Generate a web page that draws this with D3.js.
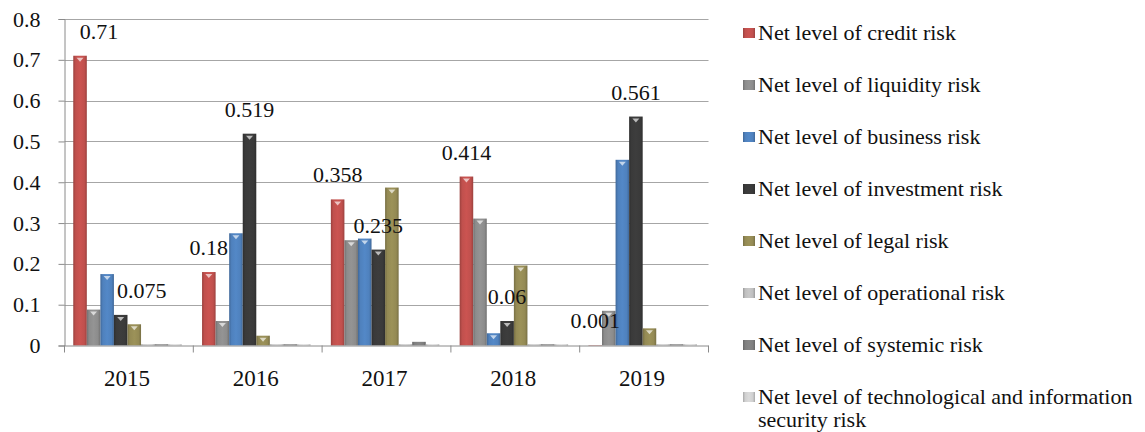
<!DOCTYPE html>
<html>
<head>
<meta charset="utf-8">
<script src="https://cdn.jsdelivr.net/npm/d3@7"></script>
</head>
<body style="margin:0">
<svg id="chart" width="1145" height="432" font-family="Liberation Serif"></svg>
<script>
const years = ["2015", "2016", "2017", "2018", "2019"];
const seriesNames = [
  "Net level of credit risk",
  "Net level of liquidity risk",
  "Net level of business risk",
  "Net level of investment risk",
  "Net level of legal risk",
  "Net level of operational risk",
  "Net level of systemic risk",
  "Net level of technological and information security risk"
];
const credit      = [0.71, 0.18, 0.358, 0.414, 0.001];
const liquidity   = [0.088, 0.06, 0.258, 0.311, 0.085];
const business    = [0.175, 0.275, 0.262, 0.03, 0.455];
const investment  = [0.075, 0.519, 0.235, 0.06, 0.561];
const legal       = [0.052, 0.024, 0.387, 0.196, 0.042];
const operational = [0.003, 0.003, 0.003, 0.003, 0.003];
const systemic    = [0.003, 0.003, 0.009, 0.003, 0.003];
const technological = [0.003, 0.003, 0.003, 0.003, 0.003];
const yTicks = [0, 0.1, 0.2, 0.3, 0.4, 0.5, 0.6, 0.7, 0.8];
const labeledSeries = [0, 3]; // credit and investment carry data labels

const seriesValues = [credit, liquidity, business, investment, legal, operational, systemic, technological];
const colors = ["#C0504D", "#8C8C8C", "#4F81BD", "#3A3A3A", "#948A54", "#BFBFBF", "#7F7F7F", "#D0D0D0"];
const FONT = "Liberation Serif";

function serif(sel) {
  return sel.attr("font-family", FONT).style("font-family", '"Liberation Serif"');
}

const svg = d3.select("#chart");
const margin = { left: 64.5, right: 708.5, top: 19, bottom: 345.5 };

const x0 = d3.scaleBand().domain(years).range([margin.left, margin.right]).padding(0);
const x1 = d3.scaleBand().domain(d3.range(seriesNames.length))
  .range([x0.bandwidth() * 0.068, x0.bandwidth() * 0.91]).padding(0);
const y = d3.scaleLinear().domain([0, 0.8]).range([margin.bottom, margin.top]);

// gradients
const defs = svg.append("defs");
colors.forEach((c, i) => {
  const g = defs.append("linearGradient").attr("id", "g" + i)
    .attr("x1", "0%").attr("x2", "100%").attr("y1", "0%").attr("y2", "0%");
  const base = d3.color(c);
  g.append("stop").attr("offset", "0%").attr("stop-color", base.darker(0.6));
  g.append("stop").attr("offset", "18%").attr("stop-color", base);
  g.append("stop").attr("offset", "50%").attr("stop-color", base.brighter(0.15));
  g.append("stop").attr("offset", "82%").attr("stop-color", base);
  g.append("stop").attr("offset", "100%").attr("stop-color", base.darker(0.6));
});

// gridlines
svg.append("g").selectAll("line").data(yTicks.filter(d => d > 0)).join("line")
  .attr("x1", margin.left).attr("x2", margin.right)
  .attr("y1", d => Math.round(y(d)) + 0.5).attr("y2", d => Math.round(y(d)) + 0.5)
  .attr("stroke", "#A6A6A6").attr("stroke-width", 1.2);

// y axis
const yAxis = svg.append("g").attr("transform", `translate(${margin.left},0)`)
  .call(d3.axisLeft(y).tickValues(yTicks).tickFormat(d => String(d)).tickSize(6).tickPadding(18));
yAxis.attr("font-family", FONT).attr("font-size", 22);
yAxis.select(".domain").attr("stroke", "#8A8A8A");
yAxis.selectAll(".tick line").attr("stroke", "#8A8A8A");
serif(yAxis.selectAll(".tick text").attr("font-size", 22).attr("fill", "#111"));

// bars
const groups = svg.append("g").selectAll("g").data(years).join("g")
  .attr("transform", d => `translate(${x0(d)},0)`);

groups.each(function(yr, yi) {
  const g = d3.select(this);
  const data = seriesValues.map((vals, si) => ({ si, v: vals[yi] }));
  g.selectAll("rect").data(data).join("rect")
    .attr("x", d => x1(d.si))
    .attr("width", x1.bandwidth())
    .attr("y", d => y(d.v))
    .attr("height", d => y(0) - y(d.v))
    .attr("fill", d => `url(#g${d.si})`);
  // small bevel marker at the top of each bar
  g.selectAll("path.tip").data(data.filter(d => y(0) - y(d.v) > 8)).join("path")
    .attr("class", "tip")
    .attr("d", d => {
      const cx = x1(d.si) + x1.bandwidth() / 2, ty = y(d.v) + 2;
      return `M${cx - 3.5},${ty} L${cx + 3.5},${ty} L${cx},${ty + 4} Z`;
    })
    .attr("fill", "rgba(255,255,255,0.65)");
});

// x axis
const xAxis = svg.append("g").attr("transform", `translate(0,${margin.bottom})`);
xAxis.append("line").attr("x1", margin.left).attr("x2", margin.right)
  .attr("y1", 0.5).attr("y2", 0.5).attr("stroke", "#8A8A8A");
const boundaries = years.map(d => x0(d)).concat([x0(years[years.length - 1]) + x0.bandwidth()]);
xAxis.selectAll("line.tk").data(boundaries).join("line").attr("class", "tk")
  .attr("x1", d => d).attr("x2", d => d).attr("y1", 0).attr("y2", 7)
  .attr("stroke", "#8A8A8A");
serif(xAxis.selectAll("text").data(years).join("text")
  .attr("x", d => x0(d) + x0.bandwidth() / 2 - 2)
  .attr("y", 40)
  .attr("text-anchor", "middle")
  .attr("font-size", 23).attr("fill", "#111")
  .text(d => d));

// data labels
const labelNudge = { "0-0": 19, "3-0": 21 };
const labels = [];
labeledSeries.forEach(si => years.forEach((yr, yi) => labels.push({ si, yi, yr, v: seriesValues[si][yi] })));
serif(svg.append("g").selectAll("text").data(labels).join("text")
  .attr("x", d => x0(d.yr) + x1(d.si) + x1.bandwidth() / 2 + (labelNudge[d.si + "-" + d.yi] || 0))
  .attr("y", d => y(d.v) - 17)
  .attr("text-anchor", "middle")
  .attr("font-size", 22).attr("fill", "#111")
  .text(d => String(d.v)));

// legend
const legend = svg.append("g");
const legendRows = seriesNames.map((name, i) => ({ name, i }));
const legendY = d3.scaleLinear().domain([0, 7]).range([33, 397]);
legendRows.forEach(d => {
  const cy = legendY(d.i);
  legend.append("rect").attr("x", 743).attr("y", cy - 5).attr("width", 12).attr("height", 10)
    .attr("fill", `url(#g${d.i})`);
  const t = serif(legend.append("text").attr("x", 758).attr("y", cy + 7)
    .attr("font-size", 22).attr("fill", "#111"));
  if (d.i === 7) {
    t.append("tspan").attr("x", 758).text("Net level of technological and information");
    t.append("tspan").attr("x", 758).attr("dy", 23).text("security risk");
  } else {
    t.text(d.name);
  }
});
</script>
</body>
</html>
